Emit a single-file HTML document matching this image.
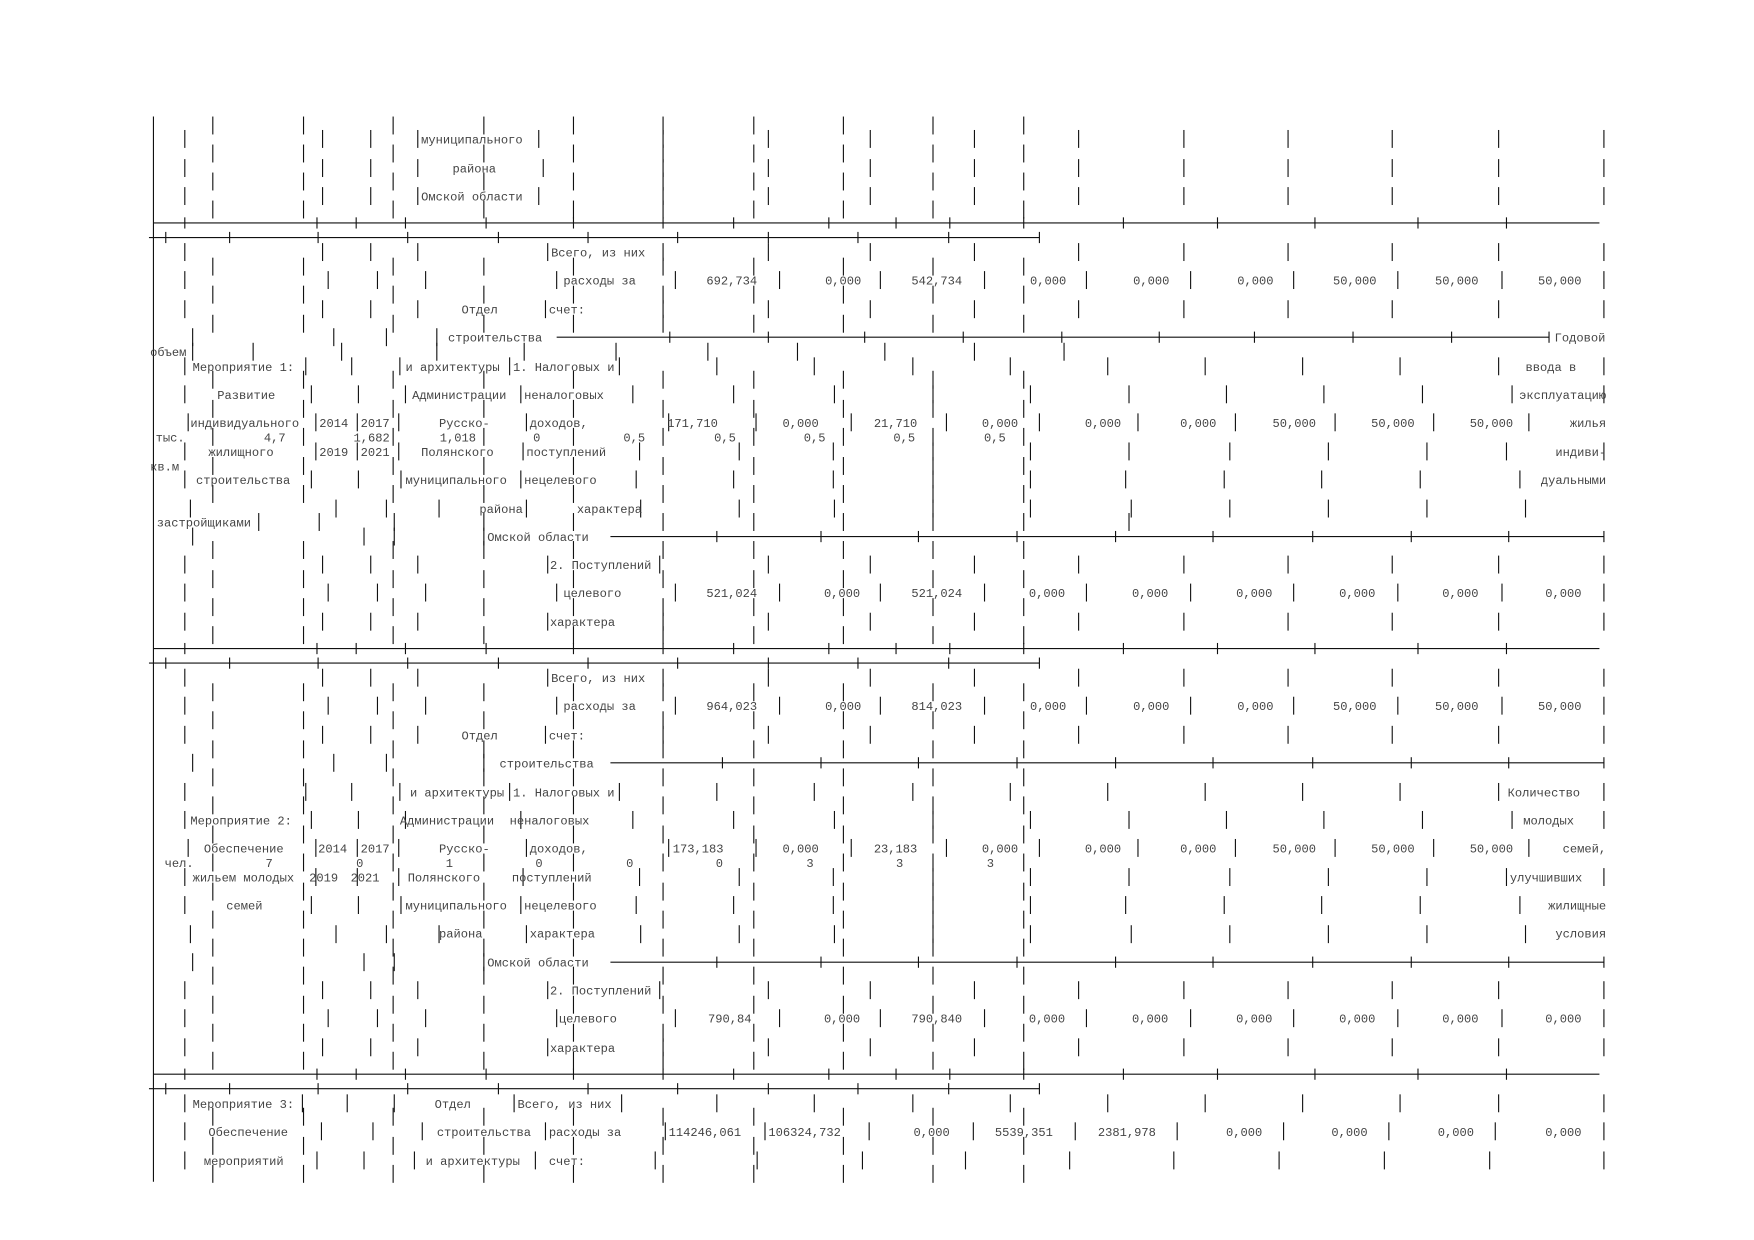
<!DOCTYPE html>
<html><head><meta charset="utf-8">
<style>
html,body{margin:0;padding:0;background:#fff;}
svg{display:block;}
text{font-family:"Liberation Mono","DejaVu Sans Mono",monospace;font-size:10.8px;fill:#444;}
.e{text-anchor:end;}
</style></head>
<body>
<svg id="s" xmlns="http://www.w3.org/2000/svg" width="1754" height="1240" viewBox="0 0 1566 1107">
<g id="lines" stroke="#111" stroke-width="1"></g>
<g id="t">
<!-- top -->
<text x="376" y="128">муниципального</text>
<text x="404" y="154">района</text>
<text x="376" y="179">Омской области</text>
<!-- section 1 -->
<text x="492" y="229">Всего, из них</text>
<text x="503" y="254">расходы за</text>
<text class="e" x="676" y="254">692,734</text><text class="e" x="769" y="254">0,000</text><text class="e" x="859" y="254">542,734</text><text class="e" x="952" y="254">0,000</text><text class="e" x="1044" y="254">0,000</text><text class="e" x="1137" y="254">0,000</text><text class="e" x="1229" y="254">50,000</text><text class="e" x="1320" y="254">50,000</text><text class="e" x="1412" y="254">50,000</text>
<text x="412" y="280">Отдел</text><text x="490" y="280">счет:</text>
<text x="400" y="305">строительства</text><text x="1388" y="305">Годовой</text>
<text x="134" y="318">объем</text>
<text x="172" y="331">Мероприятие 1:</text><text x="362" y="331">и архитектуры</text><text x="458" y="331">1. Налоговых и</text><text x="1362" y="331">ввода в</text>
<text x="194" y="356">Развитие</text><text x="368" y="356">Администрации</text><text x="468" y="356">неналоговых</text><text class="e" x="1434" y="356">эксплуатацию</text>
<text x="170" y="381">индивидуального</text><text x="285" y="381">2014</text><text x="322" y="381">2017</text><text x="392" y="381">Русско-</text><text x="473" y="381">доходов,</text>
<text class="e" x="641" y="381">171,710</text><text class="e" x="731" y="381">0,000</text><text class="e" x="819" y="381">21,710</text><text class="e" x="909" y="381">0,000</text><text class="e" x="1001" y="381">0,000</text><text class="e" x="1086" y="381">0,000</text><text class="e" x="1175" y="381">50,000</text><text class="e" x="1263" y="381">50,000</text><text class="e" x="1351" y="381">50,000</text><text class="e" x="1434" y="381">жилья</text>
<text x="139" y="394">тыс.</text><text class="e" x="255" y="394">4,7</text><text class="e" x="348" y="394">1,682</text><text class="e" x="425" y="394">1,018</text><text x="476" y="394">0</text><text class="e" x="576" y="394">0,5</text><text class="e" x="657" y="394">0,5</text><text class="e" x="737" y="394">0,5</text><text class="e" x="817" y="394">0,5</text><text class="e" x="898" y="394">0,5</text>
<text x="186" y="407">жилищного</text><text x="285" y="407">2019</text><text x="322" y="407">2021</text><text x="376" y="407">Полянского</text><text x="470" y="407">поступлений</text><text class="e" x="1434" y="407">индиви-</text>
<text x="134" y="420">кв.м</text>
<text x="175" y="432">строительства</text><text x="362" y="432">муниципального</text><text x="468" y="432">нецелевого</text><text class="e" x="1434" y="432">дуальными</text>
<text x="428" y="458">района</text><text x="515" y="458">характера</text>
<text x="140" y="470">застройщиками</text>
<text x="435" y="483">Омской области</text>
<text x="491" y="508">2. Поступлений</text>
<text x="503" y="533">целевого</text>
<text class="e" x="676" y="533">521,024</text><text class="e" x="768" y="533">0,000</text><text class="e" x="859" y="533">521,024</text><text class="e" x="951" y="533">0,000</text><text class="e" x="1043" y="533">0,000</text><text class="e" x="1136" y="533">0,000</text><text class="e" x="1228" y="533">0,000</text><text class="e" x="1320" y="533">0,000</text><text class="e" x="1412" y="533">0,000</text>
<text x="491" y="559">характера</text>
<!-- section 2 -->
<text x="492" y="609">Всего, из них</text>
<text x="503" y="634">расходы за</text>
<text class="e" x="676" y="634">964,023</text><text class="e" x="769" y="634">0,000</text><text class="e" x="859" y="634">814,023</text><text class="e" x="952" y="634">0,000</text><text class="e" x="1044" y="634">0,000</text><text class="e" x="1137" y="634">0,000</text><text class="e" x="1229" y="634">50,000</text><text class="e" x="1320" y="634">50,000</text><text class="e" x="1412" y="634">50,000</text>
<text x="412" y="660">Отдел</text><text x="490" y="660">счет:</text>
<text x="446" y="685">строительства</text>
<text x="366" y="711">и архитектуры</text><text x="458" y="711">1. Налоговых и</text><text x="1346" y="711">Количество</text>
<text x="170" y="736">Мероприятие 2:</text><text x="357" y="736">Администрации</text><text x="455" y="736">неналоговых</text><text x="1360" y="736">молодых</text>
<text x="182" y="761">Обеспечение</text><text x="284" y="761">2014</text><text x="322" y="761">2017</text><text x="392" y="761">Русско-</text><text x="473" y="761">доходов,</text>
<text class="e" x="646" y="761">173,183</text><text class="e" x="731" y="761">0,000</text><text class="e" x="819" y="761">23,183</text><text class="e" x="909" y="761">0,000</text><text class="e" x="1001" y="761">0,000</text><text class="e" x="1086" y="761">0,000</text><text class="e" x="1175" y="761">50,000</text><text class="e" x="1263" y="761">50,000</text><text class="e" x="1351" y="761">50,000</text><text class="e" x="1434" y="761">семей,</text>
<text x="147" y="774">чел.</text><text x="237" y="774">7</text><text x="318" y="774">0</text><text x="398" y="774">1</text><text x="478" y="774">0</text><text x="559" y="774">0</text><text x="639" y="774">0</text><text x="720" y="774">3</text><text x="800" y="774">3</text><text x="881" y="774">3</text>
<text x="172" y="787">жильем молодых</text><text x="276" y="787">2019</text><text x="313" y="787">2021</text><text x="364" y="787">Полянского</text><text x="457" y="787">поступлений</text><text x="1348" y="787">улучшивших</text>
<text x="202" y="812">семей</text><text x="362" y="812">муниципального</text><text x="468" y="812">нецелевого</text><text class="e" x="1434" y="812">жилищные</text>
<text x="392" y="837">района</text><text x="473" y="837">характера</text><text class="e" x="1434" y="837">условия</text>
<text x="435" y="863">Омской области</text>
<text x="491" y="888">2. Поступлений</text>
<text x="499" y="913">целевого</text>
<text class="e" x="671" y="913">790,84</text><text class="e" x="768" y="913">0,000</text><text class="e" x="859" y="913">790,840</text><text class="e" x="951" y="913">0,000</text><text class="e" x="1043" y="913">0,000</text><text class="e" x="1136" y="913">0,000</text><text class="e" x="1228" y="913">0,000</text><text class="e" x="1320" y="913">0,000</text><text class="e" x="1412" y="913">0,000</text>
<text x="491" y="939">характера</text>
<!-- section 3 -->
<text x="172" y="989">Мероприятие 3:</text><text x="388" y="989">Отдел</text><text x="462" y="989">Всего, из них</text>
<text x="186" y="1014">Обеспечение</text><text x="390" y="1014">строительства</text><text x="490" y="1014">расходы за</text><text x="597" y="1014">114246,061</text><text x="686" y="1014">106324,732</text>
<text class="e" x="848" y="1014">0,000</text><text class="e" x="940" y="1014">5539,351</text><text class="e" x="1032" y="1014">2381,978</text><text class="e" x="1127" y="1014">0,000</text><text class="e" x="1221" y="1014">0,000</text><text class="e" x="1316" y="1014">0,000</text><text class="e" x="1412" y="1014">0,000</text>
<text x="182" y="1040">мероприятий</text><text x="380" y="1040">и архитектуры</text><text x="490" y="1040">счет:</text>
</g>
</svg>
<script>
(function(){
var g=document.getElementById('lines'),NS='http://www.w3.org/2000/svg';
function L(x1,y1,x2,y2){var l=document.createElementNS(NS,'line');l.setAttribute('x1',x1);l.setAttribute('y1',y1);l.setAttribute('x2',x2);l.setAttribute('y2',y2);g.appendChild(l);}
function bars(y,xs){xs.forEach(function(x){L(x,y-8,x,y+8);});}
function hl(y,x1,x2,ticks){L(x1,y,x2,y);(ticks||[]).forEach(function(x){L(x,y-5,x,y+5);});}
var DA=[165,288,331,373,485,592,686,777,870,963,1057,1150,1243,1338,1432];
var DV=[165,293,337,380,497,603,696,786,879,970,1063,1155,1248,1341,1432];
var DB=[190,271,351,432,512,592,673,753,833,914];
// continuous left line
L(137,104,137,1055);
// top
bars(112,DB);bars(137,DB);bars(162,DB);bars(187,DB);
bars(124,[165,288,331,373,481,592,686,777,870,963,1057,1150,1243,1338,1432]);
bars(150,DA);bars(175,[165,288,331,373,481,592,686,777,870,963,1057,1150,1243,1338,1432]);
function seps(y){
 hl(y,137,1428,[165,283,318,362,434,512,592,655,740,800,848,914,1003,1087,1174,1266,1345]);
 hl(y+13,133,928,[148,205,284,364,445,525,605,686,766,847,928]);
}
seps(199);seps(579);seps(959);
function section(o,s2){
 bars(225+o,[165,288,331,373,489,592,686,777,870,963,1057,1150,1243,1338,1432]);
 bars(250+o,DV);
 bars(276+o,[165,288,331,373,487,592,686,777,870,963,1057,1150,1243,1338,1432]);
 if(!s2){bars(301,[172,298,345,390]);hl(301,497,1383,[598,686,772,860,948,1035,1120,1208,1296,1383]);}
 else {bars(681,[172,298,345,432]);hl(681,545,1432,[645,733,820,908,996,1083,1172,1260,1347,1432]);}
 bars(327+o,[165,273,314,357,455,553,640,727,815,902,989,1076,1163,1250,1338,1432]);
 bars(352+o,[165,278,320,362,465,565,655,745,833,920,1008,1095,1182,1270,1350,1432]);
 bars(377+o,[168,282,319,356,470,597,675,760,845,928,1016,1103,1192,1280,1365]);
 bars(403+o,[165,282,319,356,467,571,660,744,833,920,1008,1098,1186,1274,1345,1432]);
 bars(428+o,[165,278,320,358,465,568,655,744,833,920,1005,1093,1180,1268,1357]);
 bars(454+o,[170,300,345,392,470,572,660,745,833,920,1010,1098,1186,1274,1362]);
 bars(479+o,[172,325,352,432]);hl(479+o,545,1432,[640,733,820,908,996,1083,1172,1260,1347,1432]);
 bars(504+o,[165,288,331,373,489,589,686,777,870,963,1057,1150,1243,1338,1432]);
 bars(529+o,DV);
 bars(555+o,[165,288,331,373,489,592,686,777,870,963,1057,1150,1243,1338,1432]);
 var b=[238,263,289,339,365,441,491,517,542,567];
 b.forEach(function(y){bars(y+o,DB);});
 if(!s2){bars(314,[172,226,305,390,468,550,632,712,790,870,950]);bars(390,DB);bars(416,DB);bars(466,[231,285,352,432,512,592,673,753,833,914,1008]);}
 else {bars(694,DB);bars(770,DB);bars(796,DB);bars(846,DB);}
}
section(0,false);section(380,true);
// section 3
bars(985,[165,270,310,352,459,555,640,727,815,902,989,1076,1163,1250,1338,1432]);
bars(1010,[165,287,333,377,487,594,683,776,869,960,1051,1146,1240,1335,1432]);
bars(1036,[165,283,325,370,478,585,676,770,862,955,1048,1142,1236,1330,1432]);
bars(997,DB);bars(1023,DB);bars(1048,DB);
})();
</script>
</body></html>
